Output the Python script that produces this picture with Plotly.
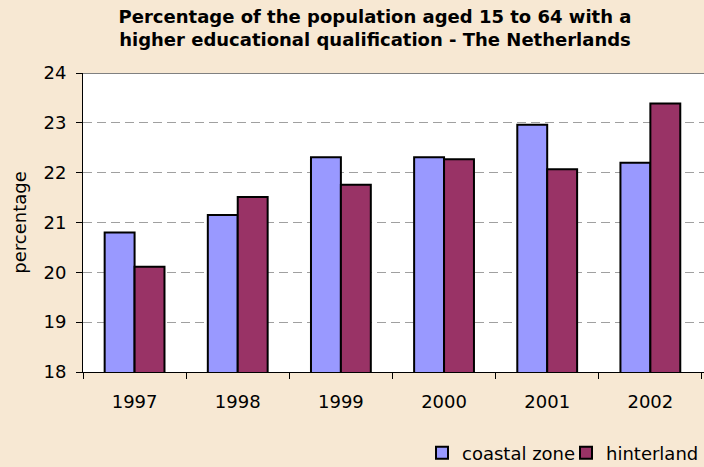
import plotly.graph_objects as go

years = ["1997", "1998", "1999", "2000", "2001", "2002"]
coastal = [20.8, 21.15, 22.31, 22.31, 22.96, 22.2]
hinterland = [20.11, 21.51, 21.76, 22.27, 22.07, 23.39]

title_text = "Percentage of the population aged 15 to 64 with a<br>higher educational qualification - The Netherlands"
FONT = "DejaVu Sans, Verdana, sans-serif"

fig = go.Figure()
fig.add_trace(go.Bar(x=years, y=coastal, name="coastal zone", legend="legend",
                     marker=dict(color="#9999FF", line=dict(color="#000000", width=2))))
fig.add_trace(go.Bar(x=years, y=hinterland, name="hinterland", legend="legend2",
                     marker=dict(color="#993366", line=dict(color="#000000", width=2))))

legend_y = (467 - 453) / 467

fig.update_layout(
    width=704, height=467,
    paper_bgcolor="#F7E8D3",
    plot_bgcolor="#FFFFFF",
    margin=dict(l=83, r=0, t=73, b=95),
    barmode="group",
    bargap=0.42,
    bargroupgap=0,
    font=dict(family=FONT, size=18, color="#000000"),
    title=dict(text=title_text, x=375 / 704, xanchor="center", y=0.951, yanchor="top",
               font=dict(size=18, family=FONT, weight="bold")),
    showlegend=True,
    legend=dict(orientation="h", x=(422 - 83) / 621, xanchor="left",
                yref="container", y=legend_y, yanchor="middle",
                bgcolor="rgba(0,0,0,0)", font=dict(size=18, family=FONT)),
    legend2=dict(orientation="h", x=1.0, xanchor="right",
                 yref="container", y=legend_y, yanchor="middle",
                 bgcolor="rgba(0,0,0,0)", font=dict(size=18, family=FONT)),
    xaxis=dict(type="category", range=[-0.5, 5.52], showgrid=False,
               showline=True, linecolor="#000000", linewidth=1,
               ticks="outside", tickson="boundaries", ticklen=6, tickcolor="#000000",
               ticklabelstandoff=13, tickfont=dict(size=18, family=FONT)),
    yaxis=dict(range=[18, 24], dtick=1, showgrid=True, gridcolor="#A0A0A0", griddash="9px,5px",
               gridwidth=1, showline=True, linecolor="#000000", linewidth=1,
               ticks="outside", ticklen=6, tickcolor="#000000", zeroline=False,
               ticklabelstandoff=6, tickfont=dict(size=18, family=FONT),
               title=dict(text="percentage", font=dict(size=18, family=FONT), standoff=12)),
)

fig.add_shape(type="line", xref="paper", yref="y", x0=0, x1=1, y0=24, y1=24,
              line=dict(color="#808080", width=2))

fig.write_html("out.html", config={"displayModeBar": False},
               post_script="document.body.style.margin='0px';")
